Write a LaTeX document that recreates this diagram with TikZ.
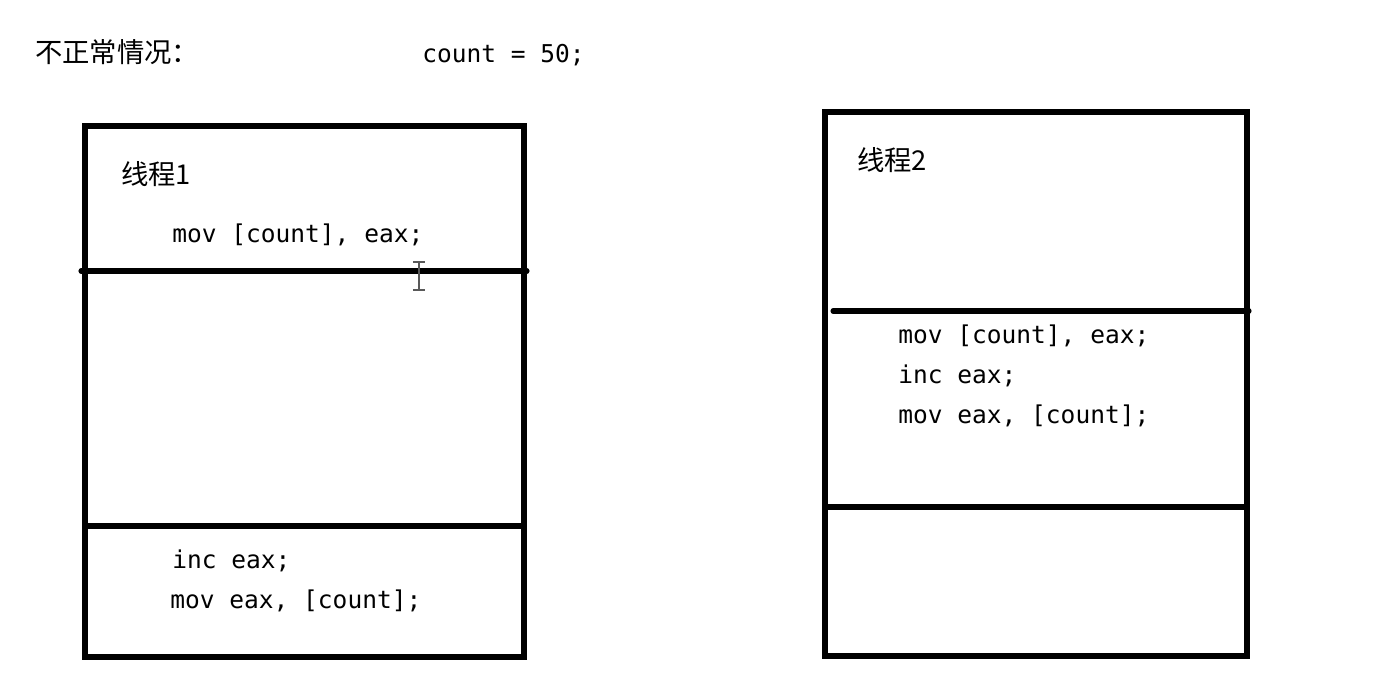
\documentclass[tikz,border=0pt]{standalone}
\usepackage{fontspec}
\setmonofont{DejaVu Sans Mono}
\newfontfamily\cjk{Noto Sans CJK SC}
\begin{document}
\begin{tikzpicture}[x=0.75pt,y=-0.75pt,
  frame/.style={line width=3.8pt,draw=black},
  divider/.style={line width=3.8pt,draw=black,line cap=round},
  code/.style={anchor=base west,inner sep=0pt,font=\ttfamily\fontsize{18.4}{22}\selectfont},
  zh/.style={anchor=base west,inner sep=0pt,font=\cjk\fontsize{20.5}{24}\selectfont}]
\useasboundingbox[fill=white] (0,0) rectangle (1383,689);
% title
\node[zh] (title) at (35,62) {不正常情况：};
\node[code] (cnt) at (422,62) {count = 50;};
% left box
\draw[frame] (85,126) rectangle (524,657);
\draw[divider] (81,271) -- (527,271);
\draw[frame] (85,526) -- (524,526);
\node[zh] (t1) at (121,184) {线程1};
\node[code] (l1) at (172,242) {mov [count], eax;};
\node[code] (l2) at (172,568) {inc eax;};
\node[code] (l3) at (170,608) {mov eax, [count];};
% cursor
\draw[gray!70!black,line width=1.2pt] (419,262) -- (419,290)
  (413,262) -- (425,262) (413,290) -- (425,290);
% right box
\draw[frame] (825,112) rectangle (1247,656);
\draw[divider] (833,311) -- (1249,311);
\draw[frame] (825,507) -- (1247,507);
\node[zh] (t2) at (857,170) {线程2};
\node[code] (r1) at (898,343) {mov [count], eax;};
\node[code] (r2) at (898,383) {inc eax;};
\node[code] (r3) at (898,423) {mov eax, [count];};
\end{tikzpicture}
\end{document}
